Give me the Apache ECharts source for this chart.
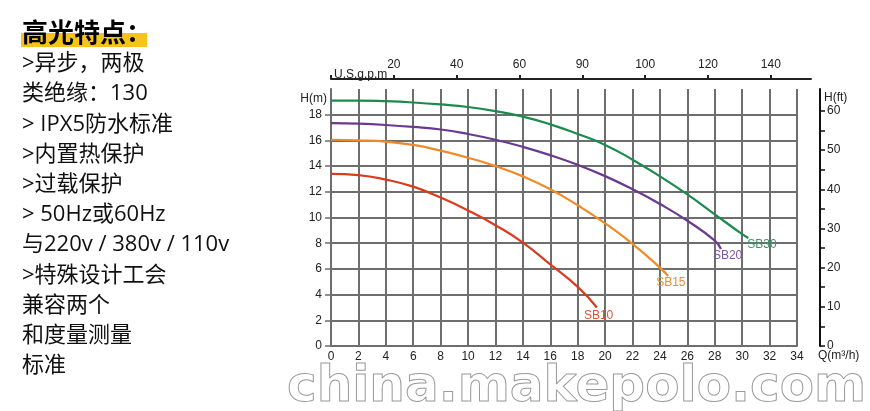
<!DOCTYPE html>
<html><head><meta charset="utf-8">
<script src="https://cdn.jsdelivr.net/npm/echarts@6/dist/echarts.min.js"></script>
<style>html,body{margin:0;padding:0;background:#fff}#c{width:870px;height:411px}</style>
</head><body><div id="c"></div>
<script>
// ---- data ----
const seriesNames = ['SB10', 'SB15', 'SB20', 'SB30'];
const sb10Q = [0, 2, 4, 6, 8, 10, 12, 14, 16, 18, 19.4];
const sb10H = [13.4, 13.3, 12.95, 12.4, 11.55, 10.55, 9.4, 8.05, 6.35, 4.6, 3.0];
const sb15Q = [0, 2, 4, 6, 8, 10, 12, 14, 16, 18, 20, 22, 24, 24.6];
const sb15H = [16.05, 16.0, 15.9, 15.65, 15.2, 14.65, 14.0, 13.2, 12.2, 10.95, 9.55, 7.95, 6.1, 5.45];
const sb20Q = [0, 2, 4, 6, 8, 10, 12, 14, 16, 18, 20, 22, 24, 26, 28, 28.45];
const sb20H = [17.35, 17.3, 17.2, 17.05, 16.85, 16.5, 16.05, 15.5, 14.85, 14.1, 13.22, 12.2, 11.05, 9.75, 8.2, 7.55];
const sb30Q = [0, 2, 4, 6, 8, 10, 12, 14, 16, 18, 20, 22, 24, 26, 28, 30, 30.45];
const sb30H = [19.1, 19.1, 19.05, 18.95, 18.8, 18.6, 18.28, 17.85, 17.25, 16.5, 15.65, 14.5, 13.2, 11.8, 10.25, 8.7, 8.4];

const gpmTickValues = [0, 20, 40, 60, 80, 100, 120, 140];
const gpmLabelValues = [20, 40, 60, 80, 100, 120, 140];
const gpmTickLabels = ['20', '40', '60', '90', '100', '120', '140'];
const hmLabelValues = [0, 2, 4, 6, 8, 10, 12, 14, 16, 18];
const hftTickValues = [0, 5, 10, 15, 20, 25, 30, 35, 40, 45, 50, 55, 60];
const hftLabelValues = [0, 10, 20, 30, 40, 50, 60];

const featureTitle = '高光特点：';
const featureLines = ['>异步，两极', '类绝缘：130', '> IPX5防水标准', '>内置热保护', '>过载保护',
  '> 50Hz或60Hz', '与220v / 380v / 110v', '>特殊设计工会', '兼容两个', '和度量测量', '标准'];
const watermark = 'china.makepolo.com';

// ---- styles ----
const lineColors = ['#d83c1e', '#f08a26', '#6a3a8e', '#1b8a4c'];
const labelColors = ['#e05232', '#f08a2a', '#7a58a6', '#2f9a6a'];
const labelOffsets = [[-13, 8], [-12, 7], [-8, 7], [-1, 7]];
const gridGray = '#6e6e6e';
const lab = { color: '#222', fontSize: 12, fontFamily: 'Liberation Sans' };

const allQ = [sb10Q, sb15Q, sb20Q, sb30Q];
const allH = [sb10H, sb15H, sb20H, sb30H];

const series = seriesNames.map((name, i) => ({
  name, type: 'line', xAxisIndex: 0, yAxisIndex: 0,
  data: allQ[i].map((q, k) => [q, allH[i][k]]),
  smooth: 0.5, showSymbol: false, symbol: 'none',
  lineStyle: { color: lineColors[i], width: 2.2 },
  endLabel: {
    show: true, formatter: '{a}', distance: 0,
    align: 'left', verticalAlign: 'middle', offset: labelOffsets[i],
    color: labelColors[i], fontSize: 12, fontFamily: 'Liberation Sans'
  },
  animation: false, z: 5
}));

const graphics = [];
graphics.push({ type: 'rect', shape: { x: 21, y: 33, width: 126, height: 14 }, style: { fill: '#f6c21c' }, z: 1 });
graphics.push({ type: 'text', x: 22, y: 32, z: 2,
  style: { text: featureTitle, fill: '#000', font: 'bold 26px "Noto Sans CJK SC"', align: 'left', verticalAlign: 'middle' } });
featureLines.forEach((t, i) => {
  graphics.push({ type: 'text', x: 22, y: 64 + i * 30.2, z: 2,
    style: { text: t, fill: '#111', font: '22px "Open Sans", "Noto Sans CJK SC"', align: 'left', verticalAlign: 'middle' } });
});
graphics.push({ type: 'text', x: 287, y: 388, z: 0, silent: true,
  style: { text: watermark, fill: 'rgba(255,255,255,0)', stroke: '#9a9a9a', lineWidth: 1,
    font: 'bold 50px "DejaVu Sans"', align: 'left', verticalAlign: 'middle' } });

const chart = echarts.init(document.getElementById('c'), null, { renderer: 'canvas' });
chart.setOption({
  animation: false,
  backgroundColor: '#fff',
  grid: [
    { left: 331, width: 466, top: 89, height: 257, containLabel: false, outerBoundsMode: 'none' },
    { left: 331, width: 480, top: 79, height: 10, containLabel: false, outerBoundsMode: 'none' }
  ],
  xAxis: [
    {
      type: 'value', gridIndex: 0, min: 0, max: 34, interval: 2, position: 'bottom',
      name: 'Q(m³/h)', nameLocation: 'end', nameGap: 21, nameMoveOverlap: false,
      nameTextStyle: Object.assign({}, lab, { align: 'left', verticalAlign: 'top', lineHeight: 20 }),
      axisLine: { show: true, onZero: false, lineStyle: { color: gridGray, width: 2 } },
      axisTick: { show: false },
      axisLabel: Object.assign({}, lab, { margin: 5 }),
      splitLine: { show: true, lineStyle: { color: gridGray, width: 2 } }
    },
    {
      type: 'value', gridIndex: 1, min: 0, max: 152.8, position: 'top',
      name: 'U.S.g.p.m', nameLocation: 'start', nameGap: -3, nameMoveOverlap: false,
      nameTextStyle: Object.assign({}, lab, { align: 'left', verticalAlign: 'bottom', lineHeight: 8 }),
      axisLine: { show: true, onZero: false, lineStyle: { color: '#222', width: 2 } },
      axisTick: { show: true, length: 4, lineStyle: { color: '#222', width: 2 }, customValues: gpmTickValues },
      axisLabel: Object.assign({}, lab, { margin: 8, customValues: gpmLabelValues,
        formatter: v => { const k = gpmLabelValues.indexOf(v); return k >= 0 ? gpmTickLabels[k] : ''; } }),
      splitLine: { show: false }
    }
  ],
  yAxis: [
    {
      type: 'value', gridIndex: 0, min: 0, max: 20, interval: 2, position: 'left',
      name: 'H(m)', nameLocation: 'end', nameGap: -9.5, nameMoveOverlap: false,
      nameTextStyle: Object.assign({}, lab, { align: 'right', verticalAlign: 'middle', padding: [0, 4, 0, 0] }),
      axisLine: { show: true, onZero: false, lineStyle: { color: gridGray, width: 2 } },
      axisTick: { show: true, length: 6, lineStyle: { color: gridGray, width: 1.5 }, customValues: hmLabelValues },
      axisLabel: Object.assign({}, lab, { margin: 9, customValues: hmLabelValues }),
      splitLine: { show: true, lineStyle: { color: gridGray, width: 2 } }
    },
    {
      type: 'value', gridIndex: 0, min: 0, max: 20 * 3.28084, position: 'right', offset: 23,
      name: 'H(ft)', nameLocation: 'end', nameGap: -9, nameMoveOverlap: false,
      nameTextStyle: Object.assign({}, lab, { align: 'left', verticalAlign: 'middle', padding: [0, 0, 0, 4] }),
      axisLine: { show: true, onZero: false, lineStyle: { color: '#111', width: 2 } },
      axisTick: { show: true, length: 5, lineStyle: { color: '#111', width: 1.5 }, customValues: hftTickValues },
      axisLabel: Object.assign({}, lab, { margin: 7, customValues: hftLabelValues }),
      splitLine: { show: false }
    },
    { type: 'value', gridIndex: 1, min: 0, max: 1, show: false }
  ],
  series,
  graphic: graphics
});
</script></body></html>
